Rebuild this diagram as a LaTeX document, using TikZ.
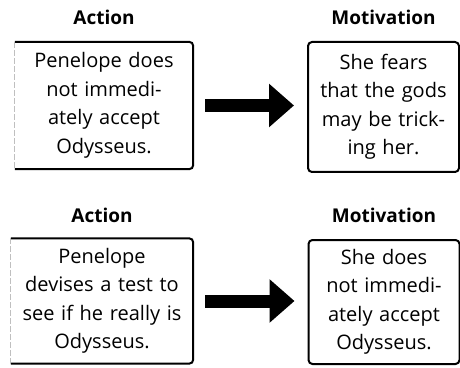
\documentclass[tikz,border=0pt]{standalone}
\usepackage{fontspec}
\setmainfont{Open Sans}
\usepackage{tikz}
\usetikzlibrary{positioning,arrows.meta}

\tikzset{
  heading/.style={font=\fontsize{19}{22}\selectfont\bfseries, anchor=base},
  card/.style={align=center, inner xsep=3pt, inner ysep=0pt,
    font=\fontsize{20}{28.5}\selectfont},
  frame/.style={line width=2pt, rounded corners=4pt},
  faint/.style={black!25, line width=0.8pt, dash pattern=on 6pt off 2pt},
  fatarrow/.style={line width=13pt, -{Triangle[width=42pt,length=25pt]},
    shorten <=12pt, shorten >=13pt}
}

\begin{document}
\begin{tikzpicture}[x=1pt,y=1pt]
        \useasboundingbox (0,0) rectangle (460,367);
        % top row
        \node[card, text width=172pt, minimum height=127pt] (act1) at (104,261.5)
          {Penelope does\\ not immedi-\\ ately accept\\ Odysseus.};
        \node[card, draw, frame, text width=145pt, minimum height=130pt] (mot1) at (383.5,260)
          {She fears\\ that the gods\\ may be trick-\\ ing her.};
        \node[heading] (acthead1) at (act1.center |- 0,342) {Action};
        \node[heading] (mothead1) at (mot1.center |- 0,342) {Motivation};
        \draw[frame] (act1.north west) -- (act1.north east) -- (act1.south east) -- (act1.south west);
        \draw[faint] (act1.north west) -- (act1.south west);
        \draw[fatarrow] (act1.east) -- (act1.east -| mot1.west);
        % bottom row
        \node[card, text width=176pt, minimum height=125pt] (act2) at (102,66)
          {Penelope\\ devises a test to\\ see if he really is\\ Odysseus.};
        \node[card, draw, frame, text width=145pt, minimum height=124pt] (mot2) at (384,65)
          {She does\\ not immedi-\\ ately accept\\ Odysseus.};
        \node[heading] (acthead2) at (act2.center |- 0,145) {Action};
        \node[heading] (mothead2) at (mot2.center |- 0,145) {Motivation};
        \draw[frame] (act2.north west) -- (act2.north east) -- (act2.south east) -- (act2.south west);
        \draw[faint] (act2.north west) -- (act2.south west);
        \draw[fatarrow] (act2.east) -- (act2.east -| mot2.west);
      \end{tikzpicture}
\end{document}
